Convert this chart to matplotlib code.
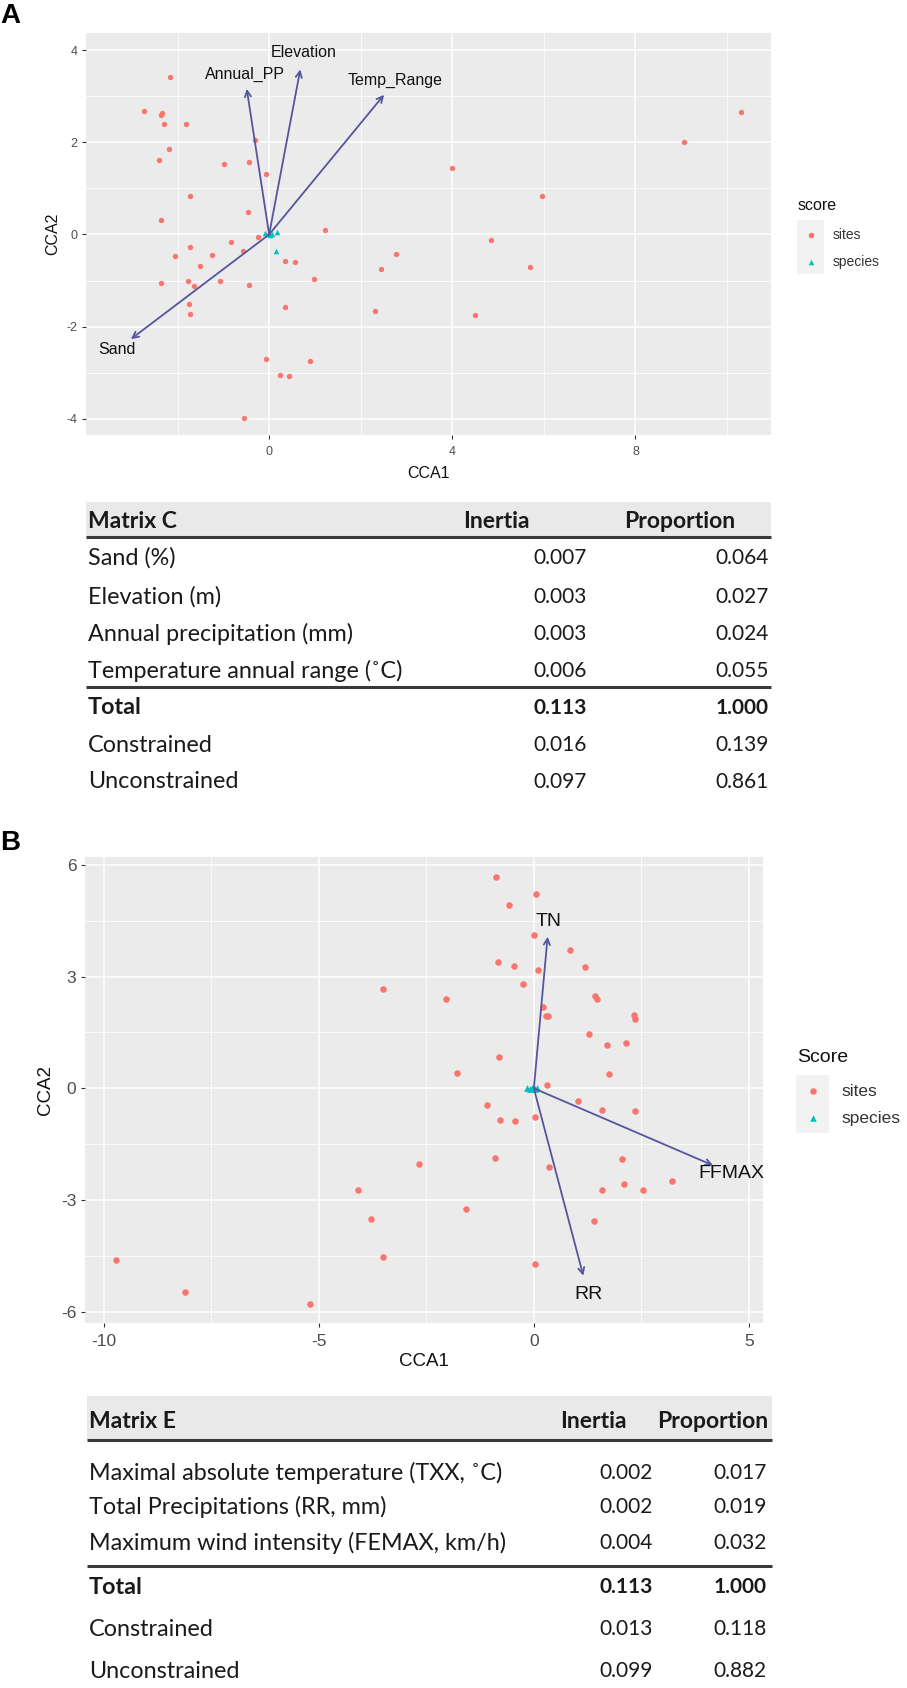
import numpy as np
import matplotlib
matplotlib.use("Agg")
import matplotlib.pyplot as plt
from matplotlib.patches import Rectangle

plt.rcParams['font.family'] = ['Liberation Sans', 'DejaVu Sans']
plt.rcParams['axes.unicode_minus'] = False

W, H = 907, 1688
SITE_COL = '#F8766D'
SPEC_COL = '#00BFC4'
ARROW_COL = '#55559F'
TAB_FONT = ['Lato', 'DejaVu Sans']

# ---- panel A data (Matrix C) ----
sites_a_x = [-2.16, -2.74, -2.34, -2.36, -2.29, -1.81, -2.18, -2.41, -0.98, -0.45,
             -0.32, -0.07, -1.73, -0.47, -2.37, 1.22, -0.25, -0.84, -0.58, -1.73,
             -2.06, -1.25, -1.51, 0.34, 0.56, 0.98, -2.37, -1.77, -1.64, -1.07,
             -0.45, -1.75, -1.73, 0.34, 2.31, 2.45, 2.77, -0.07, 0.90, 0.24,
             0.44, -0.55, 4.00, 5.96, 4.84, 5.69, 4.49, 9.06, 10.30]
sites_a_y = [3.41, 2.67, 2.64, 2.60, 2.40, 2.40, 1.86, 1.61, 1.52, 1.57,
             2.04, 1.31, 0.84, 0.49, 0.32, 0.10, -0.06, -0.17, -0.35, -0.27,
             -0.47, -0.45, -0.68, -0.57, -0.60, -0.96, -1.06, -1.00, -1.11, -1.00,
             -1.10, -1.51, -1.73, -1.57, -1.65, -0.75, -0.43, -2.71, -2.74, -3.05,
             -3.07, -3.98, 1.44, 0.84, -0.12, -0.71, -1.74, 2.00, 2.65]
species_a_x = [-0.10, -0.03, 0.02, 0.06, 0.17, 0.15]
species_a_y = [0.03, 0.00, -0.02, 0.00, 0.05, -0.36]
arrows_a = ['Annual_PP', 'Elevation', 'Temp_Range', 'Sand']
arrows_a_x = [-0.49, 0.68, 2.51, -3.02]
arrows_a_y = [3.16, 3.58, 3.03, -2.27]

table_c_title = 'Matrix C'
table_c_rows = ['Sand (%)', 'Elevation (m)', 'Annual precipitation (mm)',
                'Temperature annual range (\u02daC)', 'Total', 'Constrained', 'Unconstrained']
table_c_inertia = ['0.007', '0.003', '0.003', '0.006', '0.113', '0.016', '0.097']
table_c_prop = ['0.064', '0.027', '0.024', '0.055', '1.000', '0.139', '0.861']

# ---- panel B data (Matrix E) ----
sites_b_x = [-0.88, 0.05, -0.58, 0.00, 0.85, -0.83, -0.47, 0.10, 1.18, -0.25,
             -2.05, 1.43, 1.46, 0.22, 0.28, 0.34, 2.33, 2.36, 1.29, 1.71,
             2.14, -0.81, 1.75, -1.78, 0.31, 1.02, 1.59, 2.36, -1.08, -0.78,
             -0.44, 0.02, -0.90, 0.36, 2.06, 3.22, 1.59, 2.09, 2.53, -2.67,
             -1.57, -3.51, -4.10, -9.72, -8.12, -5.21, -3.79, -3.51, 1.40, 0.02]
sites_b_y = [5.66, 5.22, 4.92, 4.11, 3.70, 3.40, 3.29, 3.17, 3.25, 2.79,
             2.41, 2.48, 2.41, 2.19, 1.94, 1.94, 1.96, 1.86, 1.47, 1.15,
             1.23, 0.84, 0.38, 0.40, 0.08, -0.34, -0.59, -0.62, -0.44, -0.86,
             -0.89, -0.77, -1.88, -2.10, -1.91, -2.49, -2.73, -2.56, -2.73, -2.02,
             -3.24, 2.66, -2.74, -4.60, -5.46, -5.79, -3.50, -4.52, -3.55, -4.71]
species_b_x = [-0.15, -0.05, 0.02, 0.08, -0.10]
species_b_y = [0.00, 0.02, -0.02, 0.01, -0.03]
arrows_b = ['TN', 'FFMAX', 'RR']
arrows_b_x = [0.32, 4.17, 1.15]
arrows_b_y = [4.07, -2.07, -5.03]

table_e_title = 'Matrix E'
table_e_rows = ['Maximal absolute temperature (TXX, \u02daC)', 'Total Precipitations (RR, mm)',
                'Maximum wind intensity (FEMAX, km/h)', 'Total', 'Constrained', 'Unconstrained']
table_e_inertia = ['0.002', '0.002', '0.004', '0.113', '0.013', '0.099']
table_e_prop = ['0.017', '0.019', '0.032', '1.000', '0.118', '0.882']

fig = plt.figure(figsize=(W / 100, H / 100), dpi=100)

# overlay in pixel coordinates for tables, legends and panel letters
ov = fig.add_axes([0, 0, 1, 1], zorder=-1)
ov.set_xlim(0, W)
ov.set_ylim(H, 0)
ov.axis('off')


def px_axes(left, top, right, bottom):
    return fig.add_axes([left / W, 1 - bottom / H, (right - left) / W, (bottom - top) / H])


def gg_style(ax, xmaj, xmin, ymaj, ymin, fs, pad):
    ax.set_facecolor('#EBEBEB')
    for s in ax.spines.values():
        s.set_visible(False)
    ax.set_xticks(xmaj)
    ax.set_xticks(xmin, minor=True)
    ax.set_yticks(ymaj)
    ax.set_yticks(ymin, minor=True)
    ax.grid(which='major', color='white', lw=1.1)
    ax.grid(which='minor', color='white', lw=0.55)
    ax.set_axisbelow(True)
    ax.tick_params(which='minor', length=0)
    ax.tick_params(which='major', length=2.75, width=0.8, color='#333333',
                   labelcolor='#4D4D4D', labelsize=fs)
    ax.tick_params(axis='x', pad=pad[0])
    ax.tick_params(axis='y', pad=pad[1])


def draw_arrows(ax, names, xs, ys, fs):
    for n, x, y in zip(names, xs, ys):
        ax.annotate('', xy=(x, y), xytext=(0, 0),
                    arrowprops=dict(arrowstyle='->', color=ARROW_COL, lw=1.3,
                                    mutation_scale=11, shrinkA=0, shrinkB=0))
        ax.text(x * 1.1, y * 1.1, n, ha='center', va='center', fontsize=fs, color='#111111')


def legend_px(x, ytitle, title, tfs, box, m1, m2, lx, lfs, ms):
    ov.text(x, ytitle, title, fontsize=tfs, ha='left', va='center', color='#111111')
    ov.add_patch(Rectangle((box[0], box[1]), box[2] - box[0], box[3] - box[1],
                           facecolor='#F2F2F2', edgecolor='none'))
    ov.scatter([m1[0]], [m1[1]], s=ms, color=SITE_COL, marker='o', lw=0)
    ov.scatter([m2[0]], [m2[1]], s=ms, color=SPEC_COL, marker='^', lw=0)
    ov.text(lx, m1[1], 'sites', fontsize=lfs, ha='left', va='center', color='#333333')
    ov.text(lx, m2[1], 'species', fontsize=lfs, ha='left', va='center', color='#333333')


def set_label_px(ax, box, xlab_y, ylab_x):
    l, t, r, b = box
    ax.xaxis.set_label_coords(0.5, (b - xlab_y) / (b - t))
    ax.yaxis.set_label_coords((ylab_x - l) / (r - l), 0.5)
    ax.xaxis.label.set_va('center')
    ax.yaxis.label.set_va('center')


def draw_table(title, rows, inertia, prop, band, hdr_y, row_ys, line2_y,
               inertia_hdr_x, prop_hdr_x, inertia_x, prop_x, bold_row):
    x0, y0, x1, y1 = band
    ov.add_patch(Rectangle((x0, y0), x1 - x0, y1 - y0, facecolor='#E9E9E9', edgecolor='none'))
    ov.plot([x0, x1], [y1, y1], color='#3A3A3A', lw=2.2, solid_capstyle='butt')
    ov.plot([x0, x1], [line2_y, line2_y], color='#3A3A3A', lw=2.2, solid_capstyle='butt')
    kw = dict(va='center', color='#1A1A1A', family=TAB_FONT)
    ov.text(x0 + 2, hdr_y, title, ha='left', fontweight='bold', fontsize=16.5, **kw)
    ov.text(inertia_hdr_x, hdr_y, 'Inertia', ha='left', fontweight='bold', fontsize=16.5, **kw)
    ov.text(prop_hdr_x, hdr_y, 'Proportion', ha='left', fontweight='bold', fontsize=16.5, **kw)
    for i, (r, a, p) in enumerate(zip(rows, inertia, prop)):
        fw = 'bold' if r == bold_row else 'normal'
        ov.text(x0 + 2, row_ys[i], r, ha='left', fontweight=fw, fontsize=16.8, **kw)
        ov.text(inertia_x, row_ys[i], a, ha='right', fontweight=fw, fontsize=15, **kw)
        ov.text(prop_x, row_ys[i], p, ha='right', fontweight=fw, fontsize=15, **kw)


# ---------------- panel A ----------------
box_a = (86, 33, 771, 435)
ax_a = px_axes(*box_a)
ax_a.scatter(sites_a_x, sites_a_y, s=15, color=SITE_COL, lw=0, zorder=3)
ax_a.scatter(species_a_x, species_a_y, s=16, color=SPEC_COL, marker='^', lw=0, zorder=3)
draw_arrows(ax_a, arrows_a, arrows_a_x, arrows_a_y, 11.5)
ax_a.set_xlim(-4.0, 10.96)
ax_a.set_ylim(-4.35, 4.37)
gg_style(ax_a, [0, 4, 8], [-2, 2, 6, 10], [-4, -2, 0, 2, 4], [-3, -1, 1, 3], 9, (5.5, 3.5))
ax_a.set_xlabel('CCA1', fontsize=11.5, color='#111111')
ax_a.set_ylabel('CCA2', fontsize=11.5, color='#111111')
set_label_px(ax_a, box_a, 473, 53)
ov.text(0, 16, 'A', fontsize=20, fontweight='bold', ha='left', va='center')
legend_px(798, 205, 'score', 11.5, (797, 220, 824, 274), (811, 235), (811, 262), 833, 10, 16)

draw_table(table_c_title, table_c_rows, table_c_inertia, table_c_prop,
           (86, 502, 771, 537), 521, [558, 597, 634, 671, 708, 745, 782], 687,
           463, 624, 587, 769, 'Total')

# ---------------- panel B ----------------
box_b = (85, 857, 763, 1323)
ax_b = px_axes(*box_b)
ax_b.scatter(sites_b_x, sites_b_y, s=22, color=SITE_COL, lw=0, zorder=3)
ax_b.scatter(species_b_x, species_b_y, s=24, color=SPEC_COL, marker='^', lw=0, zorder=3)
draw_arrows(ax_b, arrows_b, arrows_b_x, arrows_b_y, 14)
ax_b.set_xlim(-10.44, 5.33)
ax_b.set_ylim(-6.30, 6.21)
gg_style(ax_b, [-10, -5, 0, 5], [-7.5, -2.5, 2.5], [-6, -3, 0, 3, 6], [-4.5, -1.5, 1.5, 4.5],
         12.5, (5.5, 3.5))
ax_b.set_xlabel('CCA1', fontsize=13.5, color='#111111')
ax_b.set_ylabel('CCA2', fontsize=13.5, color='#111111')
set_label_px(ax_b, box_b, 1361, 45)
ov.text(0, 843, 'B', fontsize=20, fontweight='bold', ha='left', va='center')
legend_px(797, 1058, 'Score', 14, (796, 1075, 829, 1133), (813, 1091), (813, 1118), 841, 12.5, 22)

draw_table(table_e_title, table_e_rows, table_e_inertia, table_e_prop,
           (87, 1396, 772, 1440), 1421, [1473, 1507, 1543, 1587, 1629, 1671], 1566,
           560, 657, 653, 767, 'Total')

fig.savefig('out.png', dpi=100)
